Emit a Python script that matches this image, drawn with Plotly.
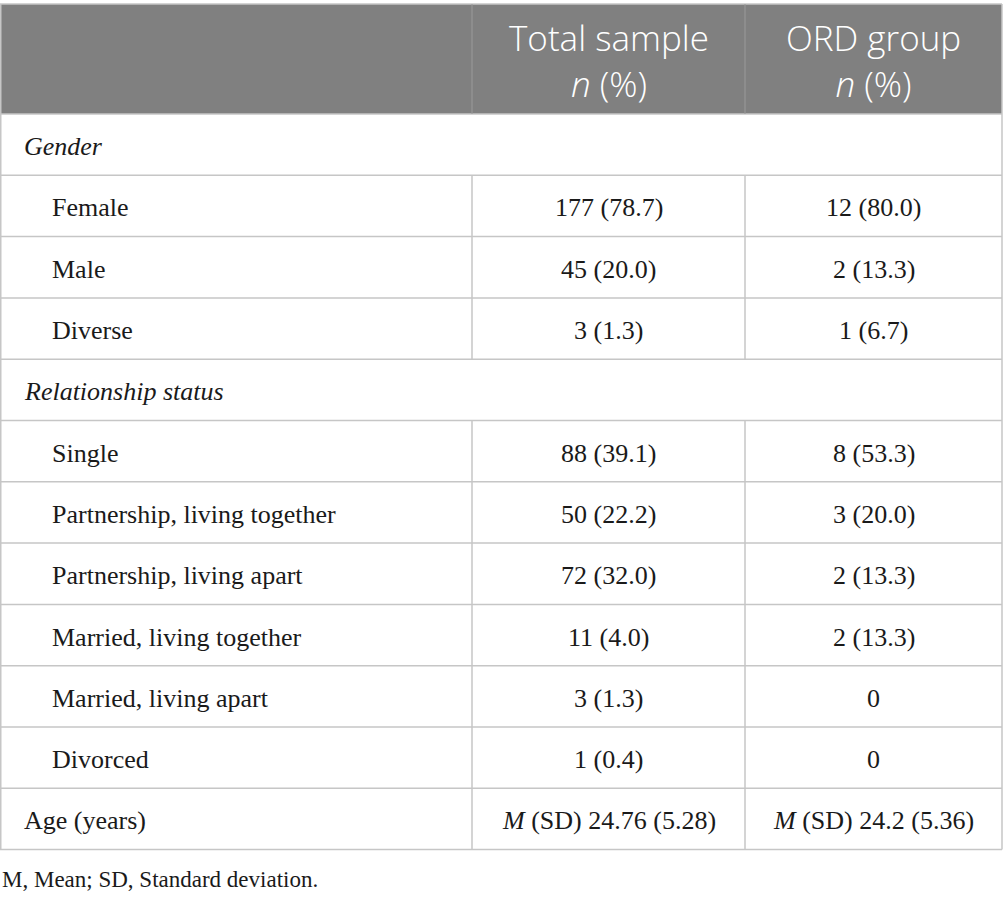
import plotly.graph_objects as go

# table content
header_cols = ["Total sample", "ORD group"]
header_sub = "<i>n</i> (%)"
row_labels = [
    "Gender", "Female", "Male", "Diverse",
    "Relationship status", "Single", "Partnership, living together",
    "Partnership, living apart", "Married, living together",
    "Married, living apart", "Divorced", "Age (years)",
]
row_kind = ["section", "item", "item", "item",
            "section", "item", "item", "item", "item", "item", "item", "plain"]
total_sample = ["", "177 (78.7)", "45 (20.0)", "3 (1.3)",
                "", "88 (39.1)", "50 (22.2)", "72 (32.0)", "11 (4.0)",
                "3 (1.3)", "1 (0.4)", "<i>M</i> (SD) 24.76 (5.28)"]
ord_group = ["", "12 (80.0)", "2 (13.3)", "1 (6.7)",
             "", "8 (53.3)", "3 (20.0)", "2 (13.3)", "2 (13.3)",
             "0", "0", "<i>M</i> (SD) 24.2 (5.36)"]
footnote = "M, Mean; SD, Standard deviation."

W, H = 1004, 903
col_x = [0, 472, 745, 1002]
top = 4
header_h = 110
row_h = 61.3
line_col = "#c6c6c6"
body_font = dict(family="Liberation Serif", size=26, color="#1a1a1a")
head_font = dict(family="Open Sans", size=35, color="white", weight=300)

fig = go.Figure()
shapes = []
annotations = []

header_bottom = top + header_h
# header background
shapes.append(dict(type="rect", x0=col_x[0], x1=col_x[-1], y0=top, y1=header_bottom,
                   fillcolor="#808080", line=dict(width=0), layer="below"))
for i, name in enumerate(header_cols):
    cx = (col_x[i + 1] + col_x[i + 2]) / 2
    annotations.append(dict(x=cx, y=top + header_h / 2 + 1, text=name + "<br>" + header_sub,
                            showarrow=False, font=head_font, xanchor="center",
                            yanchor="middle"))

n_rows = len(row_labels)
table_bottom = header_bottom + n_rows * row_h

# horizontal lines
for k in range(n_rows + 2):
    y = top if k == 0 else header_bottom + (k - 1) * row_h
    shapes.append(dict(type="line", x0=col_x[0], x1=col_x[-1], y0=y, y1=y,
                       line=dict(color=line_col, width=1.5)))

# outer vertical lines
for x in (col_x[0] + 0.75, col_x[-1]):
    shapes.append(dict(type="line", x0=x, x1=x, y0=top, y1=table_bottom,
                       line=dict(color=line_col, width=1.5)))

# header inner dividers
for x in col_x[1:3]:
    shapes.append(dict(type="line", x0=x, x1=x, y0=top, y1=header_bottom,
                       line=dict(color="#9a9a9a", width=1)))

for r, label in enumerate(row_labels):
    y0 = header_bottom + r * row_h
    yc = y0 + row_h / 2 + 2
    kind = row_kind[r]
    if kind != "section":
        for x in col_x[1:3]:
            shapes.append(dict(type="line", x0=x, x1=x, y0=y0, y1=y0 + row_h,
                               line=dict(color=line_col, width=1.5)))
    if kind == "section":
        txt, lx = "<i>" + label + "</i>", 22
    elif kind == "item":
        txt, lx = label, 50
    else:
        txt, lx = label, 22
    annotations.append(dict(x=lx, y=yc, text=txt, showarrow=False, font=body_font,
                            xanchor="left", yanchor="middle"))
    for c, vals in enumerate((total_sample, ord_group)):
        if vals[r]:
            cx = (col_x[c + 1] + col_x[c + 2]) / 2
            annotations.append(dict(x=cx, y=yc, text=vals[r], showarrow=False,
                                    font=body_font, xanchor="center", yanchor="middle"))

annotations.append(dict(x=0, y=table_bottom + 30, text=footnote, showarrow=False,
                        font=dict(family="Liberation Serif", size=23, color="#1a1a1a"),
                        xanchor="left", yanchor="middle"))

fig.update_layout(
    width=W, height=H,
    margin=dict(l=0, r=0, t=0, b=0),
    paper_bgcolor="white", plot_bgcolor="white",
    xaxis=dict(range=[0, W], visible=False, fixedrange=True),
    yaxis=dict(range=[H, 0], visible=False, fixedrange=True),
    shapes=shapes, annotations=annotations, showlegend=False,
)

fig.write_html(
    "out.html",
    config={"displayModeBar": False},
    post_script="document.body.style.margin='0';document.body.style.overflow='hidden';",
)
